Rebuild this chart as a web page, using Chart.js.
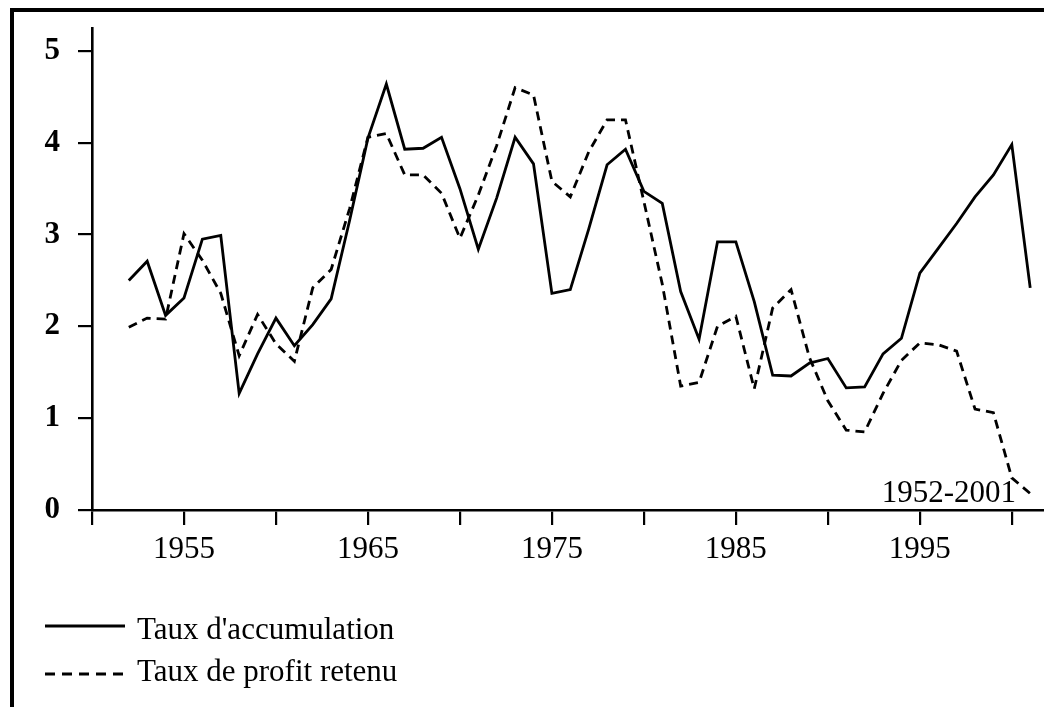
<!DOCTYPE html>
<html>
<head>
<meta charset="utf-8">
<script src="https://cdn.jsdelivr.net/npm/chart.js@4.4.1/dist/chart.umd.min.js"></script>
<style>
  html, body { margin: 0; padding: 0; background: #fff; }
  #chart { display: block; }
</style>
</head>
<body>
<canvas id="chart" width="1044" height="707"></canvas>
<script>
// données (1952-2001)
const years = [1952, 1953, 1954, 1955, 1956, 1957, 1958, 1959, 1960, 1961,
               1962, 1963, 1964, 1965, 1966, 1967, 1968, 1969, 1970, 1971,
               1972, 1973, 1974, 1975, 1976, 1977, 1978, 1979, 1980, 1981,
               1982, 1983, 1984, 1985, 1986, 1987, 1988, 1989, 1990, 1991,
               1992, 1993, 1994, 1995, 1996, 1997, 1998, 1999, 2000, 2001];

const accumulation = [2.50, 2.71, 2.12, 2.31, 2.95, 2.99, 1.27, 1.70, 2.09, 1.79,
                      2.02, 2.30, 3.15, 4.05, 4.64, 3.93, 3.94, 4.06, 3.50, 2.84,
                      3.40, 4.06, 3.77, 2.36, 2.40, 3.06, 3.76, 3.93, 3.47, 3.34,
                      2.38, 1.86, 2.92, 2.92, 2.27, 1.47, 1.46, 1.60, 1.65, 1.33,
                      1.34, 1.70, 1.87, 2.58, 2.85, 3.12, 3.41, 3.65, 3.98, 2.42];

const profitRetenu = [1.99, 2.09, 2.08, 3.01, 2.72, 2.36, 1.68, 2.13, 1.81, 1.62,
                      2.42, 2.62, 3.28, 4.06, 4.10, 3.65, 3.65, 3.45, 2.96, 3.43,
                      3.97, 4.60, 4.52, 3.58, 3.41, 3.90, 4.25, 4.25, 3.36, 2.46,
                      1.35, 1.39, 2.00, 2.11, 1.32, 2.20, 2.40, 1.66, 1.19, 0.87,
                      0.85, 1.27, 1.63, 1.82, 1.80, 1.73, 1.10, 1.06, 0.35, 0.18];

const seriesLabels = ["Taux d'accumulation", 'Taux de profit retenu'];
const xTicks = [1950, 1955, 1960, 1965, 1970, 1975, 1980, 1985, 1990, 1995, 2000];
const xTickLabels = [1955, 1965, 1975, 1985, 1995];
const yTicks = [0, 1, 2, 3, 4, 5];
const periodLabel = '1952-2001';

const serif = "'Liberation Serif', 'Times New Roman', serif";

// cadre, légende et période
const decorations = {
    id: 'decorations',
    afterDraw(chart) {
        const ctx = chart.ctx;
        ctx.save();
        ctx.fillStyle = '#000';
        ctx.fillRect(10, 8, 1034, 4);
        ctx.fillRect(10, 8, 4, 699);

        // légende
        const rows = [{ line: 626, text: 639 }, { line: 674, text: 681 }];
        chart.data.datasets.forEach((ds, i) => {
            const r = rows[i];
            ctx.beginPath();
            ctx.strokeStyle = '#000';
            ctx.lineWidth = 2.8;
            ctx.setLineDash(ds.borderDash ? [10, 7] : []);
            ctx.moveTo(45, r.line);
            ctx.lineTo(125, r.line);
            ctx.stroke();
            ctx.setLineDash([]);
            ctx.font = '31px ' + serif;
            ctx.textBaseline = 'alphabetic';
            ctx.textAlign = 'left';
            ctx.fillText(ds.label, 137, r.text);
        });

        ctx.font = '31px ' + serif;
        ctx.textAlign = 'right';
        ctx.textBaseline = 'alphabetic';
        ctx.fillText(periodLabel, 1016, 502);
        ctx.restore();
    }
};

new Chart(document.getElementById('chart'), {
    type: 'line',
    data: {
        datasets: [{
            label: seriesLabels[0],
            data: years.map((yr, i) => ({ x: yr, y: accumulation[i] })),
            borderColor: '#000',
            borderWidth: 2.8,
            pointRadius: 0,
            tension: 0,
            fill: false
        }, {
            label: seriesLabels[1],
            data: years.map((yr, i) => ({ x: yr, y: profitRetenu[i] })),
            borderColor: '#000',
            borderWidth: 2.8,
            borderDash: [9, 6],
            pointRadius: 0,
            tension: 0,
            fill: false
        }]
    },
    options: {
        responsive: false,
        animation: false,
        layout: { padding: { top: 28, left: 0, right: 0, bottom: 0 } },
        plugins: {
            legend: { display: false },
            tooltip: { enabled: false }
        },
        scales: {
            x: {
                type: 'linear',
                position: 'bottom',
                min: 1950,
                max: 2001.75,
                afterBuildTicks: s => { s.ticks = xTicks.map(v => ({ value: v })); },
                afterFit: s => { s.height = 197; s.paddingLeft = 0; s.paddingRight = 0; },
                ticks: {
                    autoSkip: false,
                    maxRotation: 0,
                    padding: 6,
                    color: '#000',
                    font: { family: serif, size: 31 },
                    callback: v => xTickLabels.includes(v) ? String(v) : ''
                },
                grid: { drawOnChartArea: false, drawTicks: true, tickLength: 15, color: '#000', lineWidth: 2.2 },
                border: { display: true, color: '#000', width: 2.6 }
            },
            y: {
                min: 0,
                max: 5.25,
                afterBuildTicks: s => { s.ticks = yTicks.map(v => ({ value: v })); },
                afterFit: s => { s.width = 92; s.paddingTop = 0; s.paddingBottom = 0; },
                ticks: {
                    padding: 18,
                    color: '#000',
                    font: { family: serif, size: 31, weight: 'bold' },
                    callback: v => String(v)
                },
                grid: { drawOnChartArea: false, drawTicks: true, tickLength: 14, color: '#000', lineWidth: 2.2 },
                border: { display: true, color: '#000', width: 2.6 }
            }
        }
    },
    plugins: [decorations]
});
</script>
</body>
</html>
